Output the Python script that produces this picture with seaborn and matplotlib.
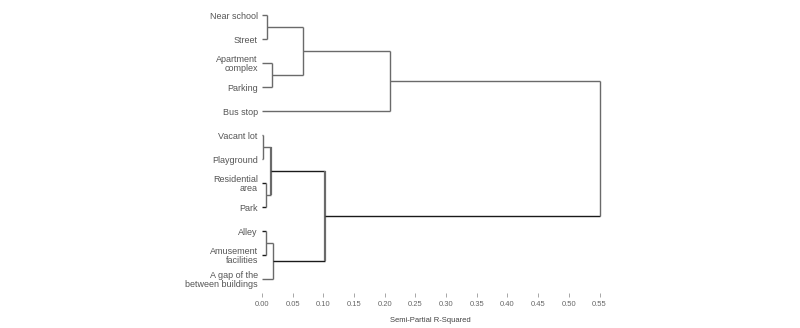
import matplotlib
matplotlib.use("Agg")
import matplotlib.pyplot as plt
import seaborn as sns

# Leaf labels, top to bottom
leaves = ["Near school", "Street", "Apartment\ncomplex", "Parking", "Bus stop",
          "Vacant lot", "Playground", "Residential\narea", "Park", "Alley",
          "Amusement\nfacilities", "A gap of the\nbetween buildings"]

# Agglomeration steps: (left child, right child, semi-partial R-squared)
# children < 12 are leaves, 12+ are clusters formed in earlier steps
merge_left = [0, 2, 12, 14, 5, 7, 16, 9, 19, 18, 15]
merge_right = [1, 3, 13, 4, 6, 8, 17, 10, 11, 20, 21]
merge_height = [0.008, 0.017, 0.066, 0.208, 0.001, 0.0065, 0.0146, 0.0065, 0.018, 0.103, 0.55]

x_ticks = [0.00, 0.05, 0.10, 0.15, 0.20, 0.25, 0.30, 0.35, 0.40, 0.45, 0.50, 0.55]

sns.set_theme(style="white")
plt.rcParams["font.family"] = ["Liberation Sans", "DejaVu Sans"]

GRAY = "#6a6a6a"
DARK = "#1a1a1a"
dark_nodes = {7, 8, 9, 10, 18, 20, 21}

fig = plt.figure(figsize=(8.0, 3.28), dpi=100)
ax = fig.add_axes([262 / 800, 35 / 328, 337.5 / 800, 288 / 328])

n = len(leaves)
pos = {i: float(i) for i in range(n)}
hgt = {i: 0.0 for i in range(n)}

for k, (a, b, h) in enumerate(zip(merge_left, merge_right, merge_height)):
    node = n + k
    for c in (a, b):
        col = DARK if c in dark_nodes else GRAY
        ax.plot([hgt[c], h], [pos[c], pos[c]], color=col, lw=1.0,
                solid_capstyle="butt", clip_on=False)
    vlw = 1.6 if node in (18, 21) else 1.0
    ax.plot([h, h], [pos[a], pos[b]], color=GRAY, lw=vlw,
            solid_capstyle="butt", clip_on=False)
    pos[node] = (pos[a] + pos[b]) / 2
    hgt[node] = h

ax.set_xlim(0, 0.55)
ax.set_ylim(11.58, -0.42)
ax.set_yticks(range(n))
ax.set_yticklabels(leaves, fontsize=6.5, color="#555555", linespacing=1.0)
ax.tick_params(axis="y", length=0, pad=3)

ax.set_xticks(x_ticks)
ax.set_xticklabels([f"{t:.2f}" for t in x_ticks], fontsize=5.5, color="#666666")
ax.tick_params(axis="x", length=3, width=0.6, color="#999999", pad=3, bottom=True)
ax.set_xlabel("Semi-Partial R-Squared", fontsize=5.5, color="#444444", labelpad=6)

sns.despine(ax=ax, left=True, bottom=True)

fig.savefig("out.png", dpi=100)
